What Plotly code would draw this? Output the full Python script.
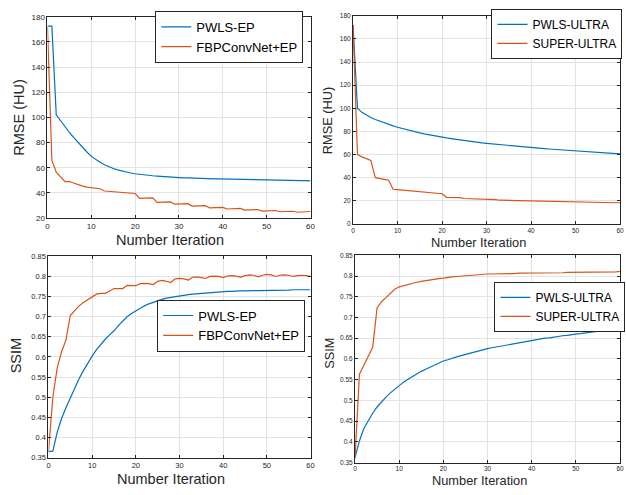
# Four panels: RMSE and SSIM against iteration number, MATLAB-like styling
import plotly.graph_objects as go

iters = list(range(61))

# top left: RMSE (HU)
rmse_pwls_ep = [172.5, 172.5, 102, 97, 92.5, 88, 84, 80, 76, 72.5,
                69, 66.5, 64.3, 62.4, 60.8, 59.4, 58.3, 57.3, 56.5, 55.8,
                55.2, 54.7, 54.3, 53.9, 53.6, 53.3, 53.0, 52.8, 52.6, 52.4,
                52.2, 52.0, 51.9, 51.7, 51.6, 51.5, 51.4, 51.3, 51.2, 51.1,
                51.0, 50.9, 50.8, 50.7, 50.6, 50.5, 50.5, 50.4, 50.3, 50.3,
                50.2, 50.1, 50.1, 50.0, 49.9, 49.9, 49.8, 49.8, 49.7, 49.7, 49.6]
rmse_fbp_ep = [172, 66, 56.5, 52.5, 49, 49, 47.7, 46.5, 45.4, 44.6,
               44, 43.6, 43.3, 41.5, 41.2, 41, 40.8, 40, 39.7, 39.6,
               39.5, 35.6, 35.6, 35.6, 36, 32.5, 32.5, 32.6, 32.8, 31,
               31, 31.2, 31.4, 29.5, 29.5, 29.7, 29.8, 28, 28, 28.2,
               28.4, 27.2, 27.2, 27.4, 27.6, 26.3, 26.3, 26.5, 26.8, 25.5,
               25.5, 25.8, 26, 25, 25, 25.2, 25.4, 24.6, 24.7, 24.9, 25.2]

# top right: RMSE (HU)
rmse_pwls_ultra = [172, 100, 96.5, 94, 92, 90.3, 88.8, 87.4, 86, 84.8,
                   83.6, 82.5, 81.5, 80.5, 79.6, 78.7, 77.9, 77.1, 76.4, 75.7,
                   75.0, 74.4, 73.8, 73.2, 72.6, 72.1, 71.6, 71.1, 70.6, 70.1,
                   69.7, 69.3, 68.9, 68.5, 68.1, 67.7, 67.4, 67.0, 66.7, 66.3,
                   66.0, 65.7, 65.4, 65.1, 64.8, 64.5, 64.2, 63.9, 63.6, 63.3,
                   63.0, 62.8, 62.5, 62.3, 62.0, 61.8, 61.5, 61.3, 61.0, 60.8, 60.5]
rmse_super_ultra = [172, 60, 58, 56.5, 55, 40, 39, 38.5, 37.8, 30,
                    29.6, 29.2, 29, 28.5, 28.1, 27.9, 27.6, 27.1, 26.6, 26.4,
                    26.1, 23, 23, 23, 22.8, 22, 21.9, 21.8, 21.6, 21.5,
                    21.3, 21.2, 21, 20.5, 20.4, 20.3, 20.2, 20, 19.9, 19.8,
                    19.8, 19.6, 19.5, 19.5, 19.4, 19.3, 19.2, 19.2, 19.1, 19,
                    18.8, 18.7, 18.7, 18.6, 18.6, 18.5, 18.5, 18.4, 18.4, 18.3, 18.3]

# bottom left: SSIM
ssim_pwls_ep = [0.365, 0.366, 0.413, 0.447, 0.474, 0.499, 0.523, 0.546, 0.566, 0.585,
                0.602, 0.618, 0.632, 0.644, 0.655, 0.665, 0.678, 0.690, 0.700, 0.708,
                0.715, 0.721, 0.727, 0.732, 0.736, 0.740, 0.743, 0.746, 0.748, 0.750,
                0.752, 0.754, 0.755, 0.756, 0.757, 0.758, 0.759, 0.760, 0.761, 0.762,
                0.762, 0.763, 0.763, 0.764, 0.764, 0.764, 0.765, 0.765, 0.765, 0.765,
                0.766, 0.766, 0.766, 0.766, 0.766, 0.766, 0.767, 0.767, 0.767, 0.767, 0.767]
ssim_fbp_ep = [0.365, 0.5, 0.573, 0.613, 0.642, 0.703, 0.715, 0.727, 0.735, 0.742,
               0.750, 0.756, 0.758, 0.758, 0.764, 0.770, 0.770, 0.770, 0.778, 0.778,
               0.777, 0.782, 0.783, 0.782, 0.780, 0.788, 0.790, 0.788, 0.785, 0.794,
               0.795, 0.794, 0.791, 0.798, 0.799, 0.797, 0.795, 0.800, 0.801, 0.800,
               0.797, 0.801, 0.802, 0.801, 0.798, 0.802, 0.804, 0.803, 0.799, 0.803,
               0.805, 0.804, 0.800, 0.803, 0.804, 0.803, 0.800, 0.802, 0.803, 0.802, 0.800]

# bottom right: SSIM
ssim_pwls_ultra = [0.362, 0.402, 0.432, 0.452, 0.469, 0.484, 0.497, 0.508, 0.518, 0.527,
                   0.536, 0.544, 0.551, 0.558, 0.564, 0.570, 0.575, 0.580, 0.585, 0.590,
                   0.595, 0.598, 0.602, 0.605, 0.608, 0.611, 0.614, 0.617, 0.620, 0.622,
                   0.625, 0.627, 0.629, 0.631, 0.633, 0.635, 0.637, 0.639, 0.641, 0.643,
                   0.645, 0.647, 0.648, 0.650, 0.651, 0.653, 0.654, 0.656, 0.657, 0.659,
                   0.660, 0.661, 0.663, 0.664, 0.665, 0.667, 0.668, 0.669, 0.671, 0.672, 0.673]
ssim_super_ultra = [0.36, 0.563, 0.585, 0.607, 0.628, 0.723, 0.738, 0.748, 0.757, 0.768,
                    0.774, 0.777, 0.780, 0.782, 0.785, 0.787, 0.789, 0.791, 0.792, 0.794,
                    0.795, 0.797, 0.798, 0.799, 0.800, 0.801, 0.802, 0.803, 0.803, 0.804,
                    0.805, 0.805, 0.805, 0.806, 0.806, 0.806, 0.806, 0.807, 0.807, 0.807,
                    0.807, 0.807, 0.808, 0.808, 0.808, 0.808, 0.808, 0.808, 0.809, 0.809,
                    0.809, 0.809, 0.809, 0.809, 0.810, 0.810, 0.810, 0.810, 0.810, 0.810, 0.811]

BLUE = "#0072BD"
ORANGE = "#D95319"
FONT = "Liberation Sans, Arial, sans-serif"
W, H = 626, 495

fig = go.Figure()

# (first series, second series, names, axis suffix, legend id)
panels = [
    (rmse_pwls_ep, rmse_fbp_ep, ["PWLS-EP", "FBPConvNet+EP"], "", "legend"),
    (rmse_pwls_ultra, rmse_super_ultra, ["PWLS-ULTRA", "SUPER-ULTRA"], "2", "legend2"),
    (ssim_pwls_ep, ssim_fbp_ep, ["PWLS-EP", "FBPConvNet+EP"], "3", "legend3"),
    (ssim_pwls_ultra, ssim_super_ultra, ["PWLS-ULTRA", "SUPER-ULTRA"], "4", "legend4"),
]
for a, b, names, s, lg in panels:
    for vals, name, col in [(a, names[0], BLUE), (b, names[1], ORANGE)]:
        fig.add_trace(go.Scatter(x=iters, y=vals, mode="lines", name=name,
                                 line=dict(color=col, width=1.2),
                                 xaxis="x" + s, yaxis="y" + s, legend=lg))


def px_x(p):
    return p / W


def px_y(p):
    return 1 - p / H


def axis(dom, rng, dtick, size, anchor):
    return dict(domain=dom, range=rng, dtick=dtick, anchor=anchor,
                showline=True, linecolor="#262626", linewidth=1, mirror="allticks",
                ticks="inside", ticklen=3, tickcolor="#262626",
                showgrid=True, gridcolor="#e3e3e3", zeroline=False,
                tickfont=dict(size=size, color="#262626", family=FONT))


# pixel boxes of the four plot areas (left, right, top, bottom, tick font)
boxes = [(46, 312, 13, 218, 8), (355, 625, 12, 224, 6.5),
         (47, 312, 257, 462, 7.5), (357, 625, 256, 467, 6.5)]
yranges = [([20, 180], 20), ([0, 180], 20), ([0.35, 0.85], 0.05), ([0.35, 0.85], 0.05)]
suffixes = ["", "2", "3", "4"]
layout_axes = {}
for (l, r, t, b, fs), (yr, yd), s in zip(boxes, yranges, suffixes):
    layout_axes["xaxis" + s] = axis([px_x(l), px_x(r)], [0, 60], 10, fs, "y" + s)
    layout_axes["yaxis" + s] = axis([px_y(b), px_y(t)], yr, yd, fs, "x" + s)
layout_axes["yaxis3"]["tickformat"] = ".2~f"
layout_axes["yaxis4"]["tickformat"] = ".2~f"


def legend(x, y, size):
    return dict(x=px_x(x), y=px_y(y), xanchor="left", yanchor="top",
                bgcolor="white", bordercolor="#262626", borderwidth=1,
                font=dict(size=size, family=FONT, color="black"),
                tracegroupgap=0, itemwidth=30)


# axis titles as annotations placed at their reference positions
titles = [
    ("Number Iteration", 170, 240, 14.5, 0),
    ("RMSE (HU)", 17, 115, 14.5, -90),
    ("Number Iteration", 482, 243, 12.8, 0),
    ("RMSE (HU)", 330, 118, 12.8, -90),
    ("Number Iteration", 171, 484, 14.5, 0),
    ("SSIM", 15, 358, 14.5, -90),
    ("Number Iteration", 483, 485, 12.8, 0),
    ("SSIM", 331, 356, 12.8, -90),
]
annotations = [dict(text=t, x=px_x(x), y=px_y(y), xref="paper", yref="paper",
                    xanchor="center", yanchor="middle", showarrow=False, textangle=ang,
                    font=dict(size=sz, family=FONT, color="#262626"))
               for t, x, y, sz, ang in titles]

fig.update_layout(
    width=W, height=H,
    margin=dict(l=0, r=0, t=0, b=0),
    paper_bgcolor="white", plot_bgcolor="white",
    showlegend=True,
    legend=legend(155, 7, 13),
    legend2=legend(495, 5, 12),
    legend3=legend(157, 301, 13),
    legend4=legend(498, 283, 12),
    annotations=annotations,
    **layout_axes,
)

# page body margin would shift the figure, so drop it
fig.write_html("out.html", config={"displayModeBar": False},
               post_script="document.body.style.margin='0';document.body.style.overflow='hidden';")
